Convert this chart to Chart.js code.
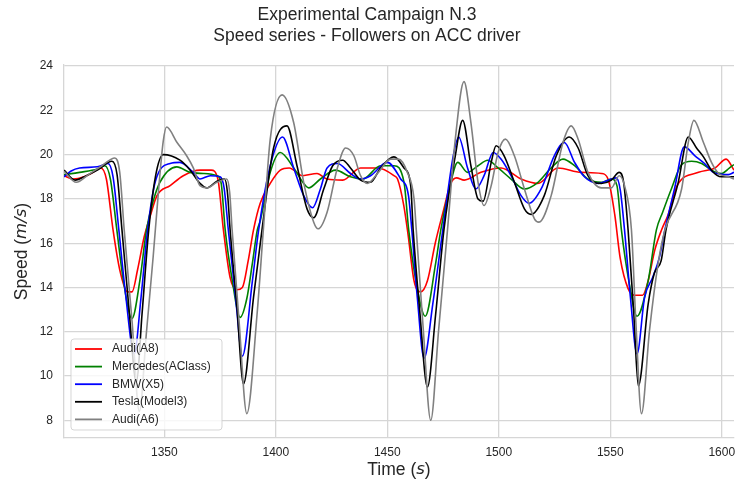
<!DOCTYPE html>
<html lang="en">
<head>
    <meta charset="UTF-8">
    <title>Experimental Campaign N.3</title>
    <script src="https://cdn.jsdelivr.net/npm/chart.js"></script>
    <style>
        html, body { margin: 0; padding: 0; background: #fff; }
        #wrap { width: 735px; height: 484px; }
    </style>
</head>
<body>
<div id="wrap"><canvas id="speedChart" width="735" height="484"></canvas></div>
<script>
    // series: time (s) and speed (m/s) for each follower
    const titleLines = ['Experimental Campaign N.3', 'Speed series - Followers on ACC driver'];
    const seriesNames = ['Audi(A8)', 'Mercedes(AClass)', 'BMW(X5)', 'Tesla(Model3)', 'Audi(A6)'];
    const xTicks = [1350, 1400, 1450, 1500, 1550, 1600];
    const yTicks = [8, 10, 12, 14, 16, 18, 20, 22, 24];

    const audiA8Time = [1305, 1309, 1314, 1318, 1321.5, 1324, 1327, 1330, 1333.5, 1335.5, 1338, 1341, 1343.6, 1346.7, 1352.6, 1358.5, 1366, 1371, 1374, 1376.5, 1379.5, 1382.5, 1385, 1387.6, 1390, 1393, 1397.5, 1402, 1406, 1412, 1418.5, 1423, 1430, 1438, 1446, 1453, 1454.6, 1457.4, 1459.3, 1462, 1465, 1468, 1471.5, 1475, 1478.5, 1481, 1484.5, 1492, 1501, 1510, 1517.5, 1526.5, 1537, 1546, 1549, 1552, 1554.5, 1558, 1561, 1564.5, 1567, 1570, 1573, 1576, 1580, 1589.6, 1597, 1602, 1605.5];
    const audiA8Speed = [19.05, 18.9, 19.0, 19.2, 19.4, 18.9, 16.6, 14.8, 13.8, 13.8, 14.8, 16.3, 17.2, 18.15, 18.6, 19.05, 19.3, 19.3, 18.9, 16.6, 14.45, 13.9, 14.0, 15.2, 16.6, 17.8, 18.7, 19.3, 19.4, 19.05, 19.15, 18.9, 18.85, 19.4, 19.4, 19.05, 18.9, 17.7, 16.4, 14.3, 13.8, 14.3, 16.0, 17.4, 18.7, 18.95, 18.85, 19.2, 19.4, 18.9, 18.7, 19.4, 19.2, 19.15, 18.9, 17.3, 15.3, 13.95, 13.65, 13.65, 14.3, 15.7, 16.6, 17.3, 18.6, 19.2, 19.4, 19.8, 19.3];

    const mercedesTime = [1305, 1312, 1320, 1323.3, 1325.8, 1328.7, 1331.5, 1335.5, 1339, 1342, 1345, 1348, 1355.6, 1361.6, 1367.5, 1373.6, 1375.5, 1377.3, 1380.5, 1384, 1387, 1389.5, 1391.7, 1393, 1397.5, 1402, 1408, 1412.5, 1414.7, 1420, 1426.8, 1433.5, 1439, 1447, 1453, 1457.5, 1459.6, 1463, 1467, 1471.7, 1474, 1477.5, 1481.6, 1486, 1490.7, 1495, 1499.7, 1505.5, 1511.5, 1517.6, 1523.5, 1528.8, 1534, 1540, 1546, 1550.5, 1553, 1555, 1558.5, 1562, 1567, 1570.7, 1573.5, 1577.4, 1582, 1586.5, 1591, 1595.4, 1599.9, 1603.5, 1605.5];
    const mercedesSpeed = [19.1, 19.2, 19.35, 19.5, 18.9, 16.6, 14.4, 12.6, 14.3, 16.6, 17.9, 18.75, 19.45, 19.2, 19.15, 19.05, 18.7, 16.6, 14.3, 12.65, 13.5, 15.1, 16.6, 17.0, 19.2, 20.1, 19.4, 18.7, 18.5, 18.9, 19.3, 19.0, 18.9, 19.5, 19.5, 18.75, 16.6, 14.2, 12.7, 15.1, 16.6, 18.3, 19.65, 19.2, 19.5, 19.75, 19.4, 18.9, 18.45, 18.75, 19.4, 19.8, 19.5, 18.9, 18.75, 18.9, 18.6, 16.6, 14.2, 12.7, 14.3, 16.6, 17.4, 18.45, 19.55, 19.7, 19.6, 19.3, 19.15, 19.4, 19.55];

    const bmwTime = [1305, 1308, 1312, 1320, 1324.7, 1327, 1329.6, 1332.5, 1336.5, 1339.5, 1342.5, 1346, 1352.6, 1357, 1363, 1366, 1370.6, 1375, 1376.8, 1378.7, 1382, 1385, 1389.5, 1392.3, 1397.5, 1403, 1408, 1412.5, 1416.5, 1420, 1423, 1427.6, 1433.5, 1438, 1442.5, 1450, 1456, 1459.5, 1461, 1463.5, 1466.5, 1470.4, 1474.9, 1479.6, 1482, 1486, 1489.7, 1493.4, 1497.5, 1501, 1505.5, 1510, 1513.6, 1519, 1524.9, 1529.4, 1534, 1538.4, 1544.6, 1550.5, 1552.7, 1554.5, 1556.4, 1559, 1562, 1565.4, 1569, 1572, 1574.5, 1578.8, 1583.2, 1588, 1592.3, 1596.3, 1603, 1605.5];
    const bmwSpeed = [19.0, 19.25, 19.4, 19.45, 19.6, 19.0, 16.6, 13.8, 11.0, 13.5, 16.6, 18.8, 19.6, 19.65, 19.2, 18.9, 19.05, 19.0, 18.5, 16.6, 13.5, 10.9, 14.3, 16.6, 19.5, 20.8, 19.4, 18.15, 17.6, 18.45, 19.4, 19.6, 19.15, 18.9, 19.05, 19.65, 18.9, 18.15, 16.6, 13.5, 10.8, 13.25, 16.6, 19.95, 20.8, 19.4, 18.45, 19.05, 20.1, 19.8, 19.05, 18.15, 17.8, 18.45, 19.95, 20.55, 19.65, 19.0, 18.7, 18.9, 18.95, 18.4, 16.6, 13.6, 11.0, 13.55, 14.45, 15.35, 16.6, 18.45, 20.35, 19.95, 19.6, 19.2, 19.1, 19.2];

    const teslaTime = [1305, 1310, 1315, 1320, 1326.5, 1328.8, 1331, 1334, 1337.5, 1340, 1343, 1346, 1349.5, 1357, 1361.6, 1366, 1369, 1373.6, 1377, 1378.3, 1379.5, 1382.5, 1385.5, 1390, 1393.8, 1399, 1405, 1409.5, 1414, 1417, 1421.5, 1425.5, 1430, 1433.5, 1438, 1442.5, 1447, 1453, 1457.5, 1460.5, 1461.6, 1464.5, 1468, 1471.7, 1475.4, 1480.5, 1483.8, 1487.5, 1490.7, 1493, 1496.6, 1498.8, 1502.4, 1507, 1511.5, 1514.5, 1520.4, 1525.8, 1531.6, 1535.6, 1540, 1546, 1550.5, 1554, 1556, 1558, 1560.5, 1562.6, 1567, 1569.8, 1572.8, 1575, 1580.5, 1585, 1588.7, 1591.8, 1595.4, 1599.9, 1604.4, 1605.5];
    const teslaSpeed = [19.3, 18.85, 19.05, 19.3, 19.7, 19.1, 16.6, 13.2, 9.7, 12.8, 16.6, 19.0, 20.0, 19.75, 19.3, 18.7, 18.5, 18.8, 18.9, 18.3, 16.6, 13.2, 9.65, 13.55, 16.6, 20.3, 21.3, 19.5, 17.55, 17.15, 18.45, 19.5, 19.75, 19.4, 18.85, 18.75, 19.4, 19.9, 19.4, 18.6, 16.6, 13.0, 9.5, 12.8, 16.6, 19.95, 21.55, 19.5, 18.0, 17.9, 19.65, 20.4, 19.95, 18.75, 17.55, 17.3, 18.15, 19.95, 20.8, 20.3, 19.05, 18.7, 18.85, 19.2, 18.75, 16.6, 12.9, 9.55, 13.25, 14.65, 15.2, 16.6, 18.75, 20.8, 20.3, 19.9, 19.3, 19.0, 19.0, 19.0];

    const audiA6Time = [1305, 1310.5, 1316, 1322, 1327.8, 1330, 1332, 1335.5, 1338.8, 1342, 1345, 1347.5, 1349.5, 1351, 1355.7, 1360, 1363, 1366, 1369, 1373.6, 1378, 1379.3, 1380.4, 1383.5, 1387, 1391.6, 1394.4, 1397.5, 1402.8, 1408, 1412.5, 1417, 1419, 1423, 1427.6, 1431.3, 1435, 1438, 1441, 1446, 1451.5, 1455, 1459, 1462, 1463, 1466, 1469.5, 1473, 1477, 1480.5, 1484.4, 1487.5, 1490.7, 1493.4, 1496.6, 1499.7, 1503, 1507, 1511.5, 1516, 1518, 1523.5, 1528.8, 1532.5, 1535.6, 1540, 1546, 1550.5, 1554, 1556.4, 1559.5, 1561.5, 1564, 1567.6, 1571.5, 1574.5, 1582, 1585, 1587.5, 1591.8, 1595.4, 1598.6, 1603, 1605.5];
    const audiA6Speed = [19.25, 18.75, 19.1, 19.5, 19.85, 19.2, 16.6, 12.5, 8.4, 12.0, 15.4, 18.5, 20.6, 21.25, 20.55, 19.95, 19.4, 18.6, 18.5, 18.75, 18.9, 18.3, 16.6, 12.5, 8.3, 12.8, 16.6, 20.7, 22.7, 21.45, 18.75, 16.95, 16.65, 17.4, 19.4, 20.3, 19.95, 19.05, 18.7, 19.2, 19.8, 19.8, 19.2, 18.0, 16.6, 12.3, 8.0, 12.05, 16.6, 20.7, 23.3, 21.45, 18.75, 17.7, 18.6, 20.1, 20.7, 19.95, 18.45, 17.1, 16.95, 18.15, 20.55, 21.3, 20.7, 19.2, 18.5, 18.5, 19.05, 18.6, 16.6, 12.4, 8.3, 12.05, 15.1, 16.6, 18.45, 20.55, 21.55, 20.55, 19.65, 19.15, 19.0, 18.9];

    const seriesTimes = [audiA8Time, mercedesTime, bmwTime, teslaTime, audiA6Time];
    const seriesSpeeds = [audiA8Speed, mercedesSpeed, bmwSpeed, teslaSpeed, audiA6Speed];
    const seriesColors = ['#ff0000', '#008000', '#0000ff', '#000000', '#808080'];

    const textColor = '#262626';
    const gridColor = '#d6d6d6';

    function toPoints(times, speeds) {
        return times.map((t, i) => ({ x: t, y: speeds[i] }));
    }

    let datasets = seriesNames.map((name, k) => ({
        label: name,
        data: toPoints(seriesTimes[k], seriesSpeeds[k]),
        borderColor: seriesColors[k],
        borderWidth: 1.6,
        pointRadius: 0,
        fill: false,
        cubicInterpolationMode: 'monotone',
        order: seriesNames.length - k   // later series drawn on top, like matplotlib
    }));

    // axis titles with the italic unit part
    const axisTitles = {
        id: 'axisTitles',
        afterDraw(chart) {
            const ctx = chart.ctx;
            const area = chart.chartArea;
            const normal = '17.5px "Liberation Sans", Arial, sans-serif';
            const italic = 'italic 16.5px "DejaVu Sans", sans-serif';
            function drawParts(parts, cx, cy, rotate) {
                ctx.save();
                ctx.translate(cx, cy);
                if (rotate) ctx.rotate(-Math.PI / 2);
                ctx.fillStyle = textColor;
                ctx.textBaseline = 'middle';
                ctx.textAlign = 'left';
                let total = 0;
                parts.forEach(p => { ctx.font = p[1]; total += ctx.measureText(p[0]).width; });
                let x = -total / 2;
                parts.forEach(p => {
                    ctx.font = p[1];
                    ctx.fillText(p[0], x, 0);
                    x += ctx.measureText(p[0]).width;
                });
                ctx.restore();
            }
            drawParts([['Time (', normal], ['s', italic], [')', normal]], (area.left + area.right) / 2, 470, false);
            drawParts([['Speed (', normal], ['m/s', italic], [')', normal]], 22, (area.top + area.bottom) / 2, true);
        }
    };

    // legend box in the lower left corner of the plot
    const innerLegend = {
        id: 'innerLegend',
        afterDatasetsDraw(chart) {
            const ctx = chart.ctx;
            const area = chart.chartArea;
            const x0 = area.left + 7, y0 = area.bottom - 99, w = 151, h = 91;
            ctx.save();
            ctx.beginPath();
            ctx.roundRect(x0, y0, w, h, 3);
            ctx.fillStyle = 'rgba(255,255,255,0.8)';
            ctx.fill();
            ctx.strokeStyle = 'rgba(204,204,204,0.8)';
            ctx.lineWidth = 1;
            ctx.stroke();
            ctx.font = '12px "Liberation Sans", Arial, sans-serif';
            ctx.textBaseline = 'middle';
            seriesNames.forEach((name, k) => {
                const y = y0 + 10 + k * 17.6;
                ctx.beginPath();
                ctx.moveTo(x0 + 4, y);
                ctx.lineTo(x0 + 31, y);
                ctx.strokeStyle = seriesColors[k];
                ctx.lineWidth = 1.8;
                ctx.stroke();
                ctx.fillStyle = textColor;
                ctx.fillText(name, x0 + 41, y);
            });
            ctx.restore();
        }
    };

    let ctx = document.getElementById('speedChart').getContext('2d');
    let speedChart = new Chart(ctx, {
        type: 'line',
        data: { datasets: datasets },
        options: {
            responsive: false,
            animation: false,
            layout: { padding: { left: 0, right: 1, top: 0, bottom: 0 } },
            plugins: {
                legend: { display: false },
                tooltip: { enabled: false },
                title: {
                    display: true,
                    text: titleLines,
                    color: textColor,
                    font: { family: '"Liberation Sans", Arial, sans-serif', size: 17.5, weight: 'normal', lineHeight: 1.2 },
                    padding: { top: 5, bottom: 18 }
                }
            },
            scales: {
                x: {
                    type: 'linear',
                    min: 1305,
                    max: 1605.5,
                    afterBuildTicks: scale => { scale.ticks = xTicks.map(v => ({ value: v })); },
                    ticks: {
                        color: textColor,
                        font: { family: '"Liberation Sans", Arial, sans-serif', size: 12 },
                        padding: 7,
                        maxRotation: 0,
                        callback: value => String(value)
                    },
                    grid: { color: gridColor, lineWidth: 1.3, drawTicks: false },
                    border: { color: gridColor, width: 1.3 },
                    afterFit: scale => { scale.height = 46; scale.paddingLeft = 0; scale.paddingRight = 0; }
                },
                y: {
                    min: 7.2,
                    max: 24.05,
                    afterBuildTicks: scale => { scale.ticks = yTicks.map(v => ({ value: v })); },
                    ticks: {
                        color: textColor,
                        font: { family: '"Liberation Sans", Arial, sans-serif', size: 12 },
                        padding: 11,
                        callback: value => String(value)
                    },
                    grid: { color: gridColor, lineWidth: 1.3, drawTicks: false },
                    border: { color: gridColor, width: 1.3 },
                    afterFit: scale => { scale.width = 64; scale.paddingTop = 0; scale.paddingBottom = 0; }
                }
            }
        },
        plugins: [innerLegend, axisTitles]
    });
</script>
</body>
</html>
